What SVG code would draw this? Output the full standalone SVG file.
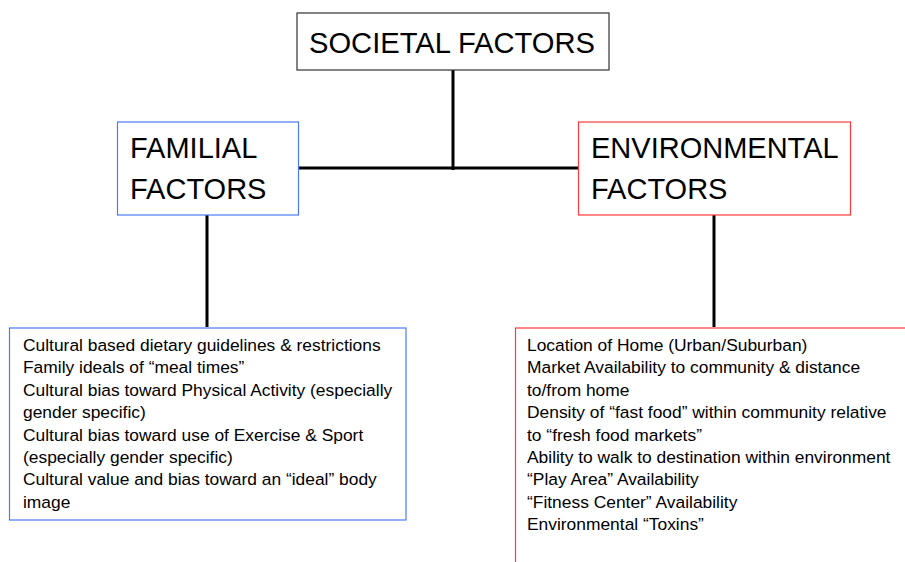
<svg xmlns="http://www.w3.org/2000/svg" width="905" height="562" viewBox="0 0 905 562">
<style>
.bx{fill:#fff;stroke-width:1.2}
.blk{stroke:#333}
.blue{stroke:#4a7af5}
.red{stroke:#ff3b3b}
.big{font-family:"Liberation Sans",Arial,sans-serif;font-size:29px;fill:#000}
.sm{font-family:"Liberation Sans",Arial,sans-serif;font-size:17.4px;fill:#000}
.ln{stroke:#000;stroke-width:3;fill:none}
</style>
<rect width="905" height="562" fill="#fff"/>
<g id="connectors">
<line class="ln" x1="453" y1="70" x2="453" y2="170"/>
<line class="ln" x1="298" y1="168" x2="578" y2="168"/>
<line class="ln" x1="207" y1="215" x2="207" y2="327"/>
<line class="ln" x1="714" y1="215" x2="714" y2="327"/>
</g>
<g id="societal">
<rect class="bx blk" x="297" y="13" width="312" height="57"/>
<text class="big" x="309" y="53" textLength="286" lengthAdjust="spacingAndGlyphs">SOCIETAL FACTORS</text>
</g>
<g id="familial">
<rect class="bx blue" x="117.5" y="122" width="181" height="93"/>
<text class="big" x="130" y="158">FAMILIAL</text>
<text class="big" x="130" y="199">FACTORS</text>
</g>
<g id="environmental">
<rect class="bx red" x="578.5" y="122" width="272" height="93"/>
<text class="big" x="591" y="158">ENVIRONMENTAL</text>
<text class="big" x="591" y="199">FACTORS</text>
</g>
<g id="familial-list">
<rect class="bx blue" x="9.5" y="328" width="396.5" height="192"/>
<text class="sm" x="23">
<tspan x="23" y="351">Cultural based dietary guidelines &amp; restrictions</tspan>
<tspan x="23" y="373.4">Family ideals of “meal times”</tspan>
<tspan x="23" y="395.8">Cultural bias toward Physical Activity (especially</tspan>
<tspan x="23" y="418.2">gender specific)</tspan>
<tspan x="23" y="440.6">Cultural bias toward use of Exercise &amp; Sport</tspan>
<tspan x="23" y="463">(especially gender specific)</tspan>
<tspan x="23" y="485.4">Cultural value and bias toward an “ideal” body</tspan>
<tspan x="23" y="507.8">image</tspan>
</text>
</g>
<g id="environmental-list">
<rect class="bx red" x="515.5" y="328" width="400" height="250"/>
<text class="sm" x="527">
<tspan x="527" y="351">Location of Home (Urban/Suburban)</tspan>
<tspan x="527" y="373.4">Market Availability to community &amp; distance</tspan>
<tspan x="527" y="395.8">to/from home</tspan>
<tspan x="527" y="418.2">Density of “fast food” within community relative</tspan>
<tspan x="527" y="440.6">to “fresh food markets”</tspan>
<tspan x="527" y="463">Ability to walk to destination within environment</tspan>
<tspan x="527" y="485.4">“Play Area” Availability</tspan>
<tspan x="527" y="507.8">“Fitness Center” Availability</tspan>
<tspan x="527" y="530.2">Environmental “Toxins”</tspan>
</text>
</g>
</svg>
